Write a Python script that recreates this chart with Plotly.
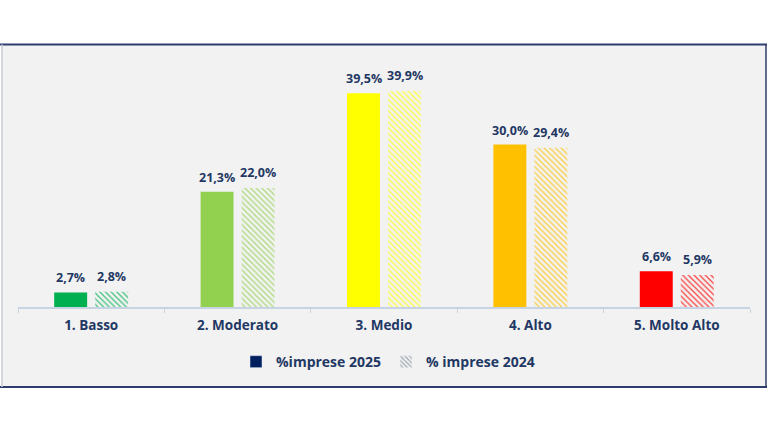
import plotly.graph_objects as go

categories = ["1. Basso", "2. Moderato", "3. Medio", "4. Alto", "5. Molto Alto"]
imprese_2025 = [2.7, 21.3, 39.5, 30.0, 6.6]
imprese_2024 = [2.8, 22.0, 39.9, 29.4, 5.9]
bar_colors = ["#00b050", "#92d050", "#ffff00", "#ffc000", "#ff0000"]
pale_colors = ["#e6f4ea", "#eef7e6", "#ffffd0", "#fff4da", "#fbe3e3"]
series_names = ["%imprese 2025", "% imprese 2024"]

NAVY = "#1f3864"
FONT = "Open Sans"
W, H = 768, 432
ML, MR, MT, MB = 18, 18, 80, 125.3
plot_w = W - ML - MR
plot_h = H - MT - MB


def px_x(p):
    return (p - ML) / plot_w


def px_y(p):
    return (H - MB - p) / plot_h


def fmt(v):
    return f"{v:.1f}".replace(".", ",") + "%"


fig = go.Figure()

bar_w = 0.225
off_a, off_b = -0.2527, 0.0273
fig.add_trace(go.Bar(
    x=categories, y=imprese_2025, width=bar_w, offset=off_a,
    marker=dict(color=bar_colors, line=dict(width=0)),
    showlegend=False, hoverinfo="skip",
))
fig.add_trace(go.Bar(
    x=categories, y=imprese_2024, width=bar_w, offset=off_b,
    marker=dict(color=bar_colors, line=dict(width=0),
                pattern=dict(shape="\\", bgcolor=pale_colors, fgopacity=0.75,
                             size=4, solidity=0.3, fillmode="replace")),
    showlegend=False, hoverinfo="skip",
))
# legend-only entries
fig.add_trace(go.Bar(x=[None], y=[None], name=series_names[0],
                     marker=dict(color="#002060")))
fig.add_trace(go.Bar(x=[None], y=[None], name=series_names[1],
                     marker=dict(color="#9aa0aa",
                                 pattern=dict(shape="\\", bgcolor="#f2f2f2",
                                              size=4, solidity=0.35, fillmode="replace"))))

annotations = []
for cat, v in zip(categories, imprese_2025):
    annotations.append(dict(x=cat, y=v, xref="x", yref="y", text=fmt(v), showarrow=False,
                            xshift=-20.5, yshift=4, yanchor="bottom",
                            font=dict(family=FONT, size=12.5, color=NAVY, weight="bold")))
for cat, v in zip(categories, imprese_2024):
    annotations.append(dict(x=cat, y=v, xref="x", yref="y", text=fmt(v), showarrow=False,
                            xshift=20.5, yshift=5, yanchor="bottom",
                            font=dict(family=FONT, size=12.5, color=NAVY, weight="bold")))

shapes = [
    dict(type="rect", xref="paper", yref="paper", x0=px_x(1), x1=px_x(766),
         y0=px_y(386.5), y1=px_y(44.5), fillcolor="#f2f2f2", line=dict(width=0),
         layer="below"),
    dict(type="line", xref="paper", yref="paper", x0=px_x(0), x1=px_x(767),
         y0=px_y(44.5), y1=px_y(44.5), line=dict(color="#2f3c6e", width=2), layer="below"),
    dict(type="line", xref="paper", yref="paper", x0=px_x(0), x1=px_x(767),
         y0=px_y(386.7), y1=px_y(386.7), line=dict(color="#2f3c6e", width=2), layer="below"),
    dict(type="line", xref="paper", yref="paper", x0=px_x(766), x1=px_x(766),
         y0=px_y(386.7), y1=px_y(44.5), line=dict(color="#2f3c6e", width=1.5), layer="below"),
    dict(type="line", xref="paper", yref="paper", x0=px_x(2), x1=px_x(2),
         y0=px_y(386.7), y1=px_y(44.5), line=dict(color="#c8ccd2", width=1.5), layer="below"),
]

fig.update_layout(
    width=W, height=H,
    margin=dict(l=ML, r=MR, t=MT, b=MB, pad=0),
    paper_bgcolor="#ffffff", plot_bgcolor="rgba(0,0,0,0)",
    barmode="overlay",
    shapes=shapes,
    annotations=annotations,
    font=dict(family=FONT, color=NAVY),
    legend=dict(orientation="h", x=px_x(388), xanchor="center", y=px_y(361.7),
                yanchor="middle", bgcolor="rgba(0,0,0,0)",
                font=dict(family=FONT, size=14, color=NAVY, weight="bold"),
                itemwidth=30, tracegroupgap=0),
    xaxis=dict(type="category", range=[-0.5, 4.5], showgrid=False,
               showline=True, linecolor="#c5d3e3", linewidth=1.5,
               ticks="outside", tickson="boundaries", ticklen=4, tickcolor="#c5d3e3",
               ticklabelstandoff=5,
               tickfont=dict(family=FONT, size=13.5, color=NAVY, weight="bold"),
               fixedrange=True),
    yaxis=dict(range=[0, 41.93], visible=False, showgrid=False, zeroline=False,
               fixedrange=True),
)

fig.write_html("out.html")
